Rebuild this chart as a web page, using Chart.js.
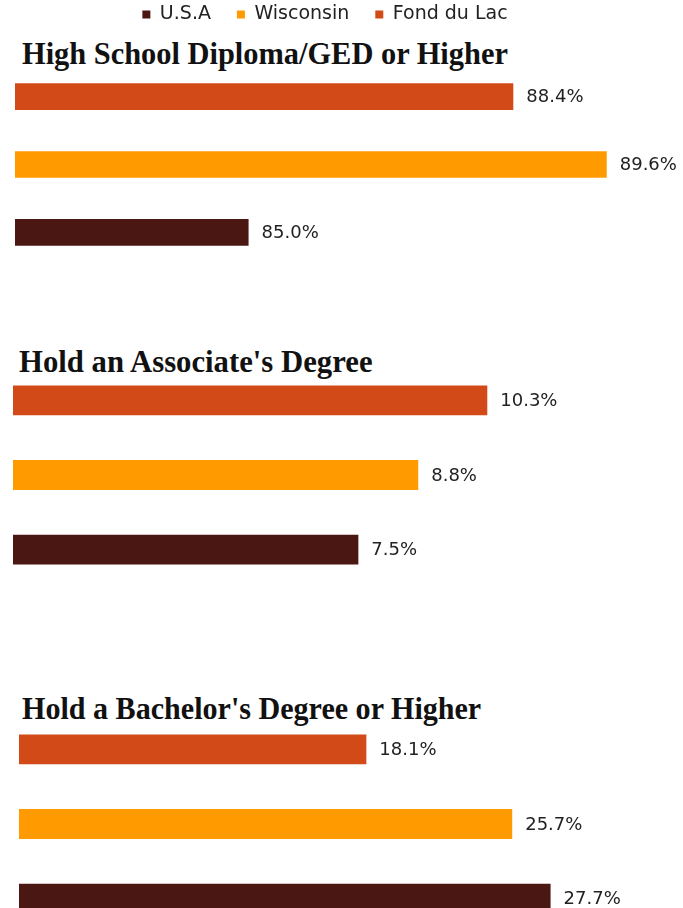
<!DOCTYPE html>
<html>
<head>
<meta charset="utf-8">
<script src="https://cdn.jsdelivr.net/npm/chart.js@4.4.1/dist/chart.umd.min.js"></script>
<style>
  html, body { margin: 0; padding: 0; background: #fff; width: 683px; height: 908px; overflow: hidden; }
  body { position: relative; }
  canvas { position: absolute; left: 0; }
  .ttl { position: absolute; font-family: "Liberation Serif", serif; font-weight: bold; color: #111;
         font-size: 32px; line-height: 32px; white-space: nowrap; transform-origin: left top; }
</style>
</head>
<body>
<div class="ttl" id="t1" style="left:22px; top:37px; transform:scaleX(0.95)"></div>
<div class="ttl" id="t2" style="left:19px; top:345px; transform:scaleX(0.96)"></div>
<div class="ttl" id="t3" style="left:22px; top:692px; transform:scaleX(0.94)"></div>
<canvas id="c1" width="683" height="316" style="top:-21px"></canvas>
<canvas id="c2" width="683" height="224" style="top:363px"></canvas>
<canvas id="c3" width="683" height="224" style="top:712px"></canvas>
<script>
// ---- data ----
const seriesNames = ['Fond du Lac', 'Wisconsin', 'U.S.A'];
const seriesColors = ['#D14A18', '#FF9A00', '#4B1713'];
const panelTitles = ['High School Diploma/GED or Higher', "Hold an Associate's Degree", "Hold a Bachelor's Degree or Higher"];
const highSchool = [88.4, 89.6, 85.0];
const associate = [10.3, 8.8, 7.5];
const bachelor = [18.1, 25.7, 27.7];

document.getElementById('t1').textContent = panelTitles[0];
document.getElementById('t2').textContent = panelTitles[1];
document.getElementById('t3').textContent = panelTitles[2];

const valueLabels = {
  id: 'valueLabels',
  afterDatasetsDraw(chart) {
    const ctx = chart.ctx;
    ctx.save();
    ctx.font = '18px "DejaVu Sans"';
    ctx.fillStyle = '#222';
    ctx.textBaseline = 'middle';
    ctx.textAlign = 'left';
    chart.data.datasets.forEach((ds, i) => {
      chart.getDatasetMeta(i).data.forEach((bar, j) => {
        ctx.fillText(ds.data[j].toFixed(1) + '%', bar.x + 13, bar.y + 1);
      });
    });
    ctx.restore();
  }
};

function makeChart(id, values, opts) {
  return new Chart(document.getElementById(id), {
    type: 'bar',
    data: {
      labels: [''],
      datasets: seriesNames.map((n, i) => ({
        label: n,
        data: [values[i]],
        backgroundColor: seriesColors[i],
        borderWidth: 0,
        categoryPercentage: opts.cp,
        barPercentage: opts.bp
      }))
    },
    options: {
      indexAxis: 'y',
      responsive: false,
      animation: false,
      layout: { padding: { left: opts.padL, right: opts.padR, top: 0, bottom: 0 } },
      scales: {
        x: { display: false, min: opts.min, max: opts.max },
        y: { display: false }
      },
      plugins: {
        tooltip: { enabled: false },
        legend: opts.legend ? {
          display: true,
          reverse: true,
          labels: {
            boxWidth: 8, boxHeight: 8, padding: 26, color: '#222',
            font: { family: '"DejaVu Sans"', size: 19 }
          }
        } : { display: false }
      }
    },
    plugins: [valueLabels]
  });
}

makeChart('c1', highSchool, { min: 82, max: 89.963, padL: 15, padR: 48, cp: 0.7805, bp: 0.393, legend: true });
makeChart('c2', associate, { min: 0, max: 14.55, padL: 13, padR: 0, cp: 1, bp: 0.4, legend: false });
makeChart('c3', bachelor, { min: 0, max: 34.6, padL: 19, padR: 0, cp: 1, bp: 0.4, legend: false });
</script>
</body>
</html>
